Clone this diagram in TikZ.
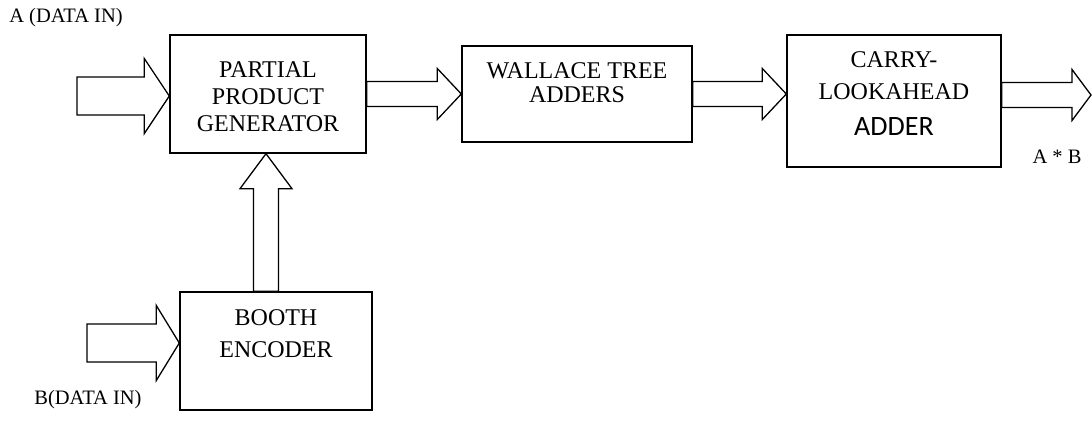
\documentclass[tikz,border=0pt]{standalone}
\usepackage{fontspec}
\setmainfont{Liberation Serif}
\newfontfamily\carlito{Carlito}
\usetikzlibrary{calc}
\tikzset{
  box/.style={draw, line width=1.4pt, inner sep=0pt},
  boxtext/.style={anchor=north, align=center, inner sep=0pt, font=\fontsize{24}{27}\selectfont},
  lbl/.style={inner sep=0pt, font=\fontsize{20.5}{24}\selectfont},
  blk/.style={draw, line width=1.3pt, line join=miter, fill=white}
}
% horizontal block arrow: start, tip, shaft half, head half, head length
\newcommand\harr[5]{\draw[blk] let \p1=(#1), \p2=(#2) in
  (\x1,\y2+#3) -- (\x2-#5,\y2+#3) -- (\x2-#5,\y2+#4) -- (\x2,\y2) --
  (\x2-#5,\y2-#4) -- (\x2-#5,\y2-#3) -- (\x1,\y2-#3) -- cycle;}
% vertical (upward) block arrow: start, tip, shaft half, head half, head length
\newcommand\varr[5]{\draw[blk] let \p1=(#1), \p2=(#2) in
  (\x2+#3,\y1) -- (\x2+#3,\y2-#5) -- (\x2+#4,\y2-#5) -- (\x2,\y2) --
  (\x2-#4,\y2-#5) -- (\x2-#3,\y2-#5) -- (\x2-#3,\y1) -- cycle;}
\begin{document}
\begin{tikzpicture}[x=1pt, y=-1pt]
\useasboundingbox (0,0) rectangle (1092,423);
% boxes
\node[box, minimum width=196pt, minimum height=118pt] (ppg) at (268,94) {};
\node[box, minimum width=230pt, minimum height=96pt] (wta) at (577,94) {};
\node[box, minimum width=214pt, minimum height=132pt] (cla) at (894,101) {};
\node[box, minimum width=192pt, minimum height=118pt] (booth) at (276,351) {};
% box texts
\node[boxtext, font=\fontsize{24}{27}\selectfont] (ppgt) at ([yshift=-27pt]ppg.north) {PARTIAL\\PRODUCT\\GENERATOR};
\node[boxtext, font=\fontsize{24}{24}\selectfont] (wtat) at ([yshift=-17pt]wta.north) {WALLACE TREE\\ADDERS};
\node[boxtext, font=\fontsize{24}{32}\selectfont] (clat) at ([yshift=-17pt]cla.north) {CARRY-\\LOOKAHEAD\\[4pt]{\carlito\fontsize{28}{32}\selectfont ADDER}};
\node[boxtext, font=\fontsize{24}{32}\selectfont] (bootht) at ([yshift=-18pt]booth.north) {BOOTH\\ENCODER};
% labels
\node[lbl] (la) at (66,18) {A (DATA IN)};
\node[lbl] (lb) at (88,400) {B(DATA IN)};
\node[lbl] (lab) at (1057,157) {A * B};
% free ends
\coordinate (ain) at (77,96);
\coordinate (bin) at (87,343);
\coordinate (out) at (1091,95);
\coordinate (uptip) at ([xshift=-2pt]ppg.south);
\coordinate (upbase) at (uptip |- booth.north);
% block arrows
\harr{ain}{[yshift=-2pt]ppg.west}{19pt}{37.5pt}{25pt}
\harr{ppg.east}{wta.west}{12.5pt}{25.5pt}{24pt}
\harr{wta.east}{cla.west |- wta.east}{12.5pt}{25.5pt}{24pt}
\harr{cla.east |- wta.east}{out}{12.5pt}{25.5pt}{19pt}
\harr{bin}{[yshift=8pt]booth.west}{19pt}{37.5pt}{23pt}
\varr{upbase}{uptip}{12.5pt}{26pt}{35pt}
\end{tikzpicture}
\end{document}
